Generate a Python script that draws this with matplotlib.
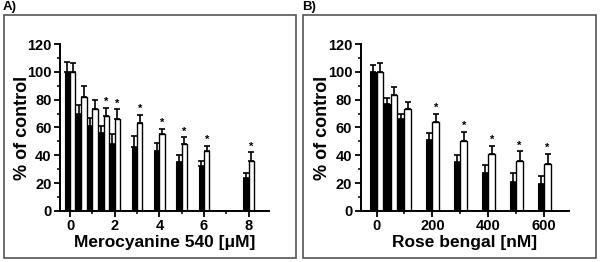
import numpy as np
import matplotlib
matplotlib.use("Agg")
import matplotlib.pyplot as plt
from matplotlib.patches import Rectangle

plt.rcParams['font.family'] = ['Liberation Sans', 'DejaVu Sans']
plt.rcParams['font.weight'] = 'bold'

# panel A - merocyanine 540
mc_dose = [0, 0.5, 1, 1.5, 2, 3, 4, 5, 6, 8]
mc_black = [100, 70, 61, 56, 48, 46, 43, 35, 32, 24]
mc_black_err = [7, 6, 6, 5, 7, 8, 6, 5, 4, 3]
mc_white = [100, 82, 73, 68, 66, 63, 55, 48, 43, 36]
mc_white_err = [6, 8, 7, 6, 7, 6, 4, 5, 4, 6]
mc_star = [False, False, False, True, True, True, True, True, True, True]

# panel B - rose bengal
rb_dose = [0, 50, 100, 200, 300, 400, 500, 600]
rb_black = [100, 77, 66, 51, 35, 27, 21, 19]
rb_black_err = [5, 4, 4, 5, 5, 6, 6, 6]
rb_white = [100, 83, 73, 64, 50, 41, 36, 34]
rb_white_err = [6, 6, 5, 6, 7, 6, 7, 7]
rb_star = [False, False, False, True, True, True, True, True]

fig = plt.figure(figsize=(6, 2.62), dpi=100)

# grey boxes round each panel
for x0 in [0.006, 0.505]:
    fig.patches.append(Rectangle((x0, 0.017), 0.488, 0.925, transform=fig.transFigure,
                                 fill=False, edgecolor='#555555', linewidth=1.2))
fig.text(0.004, 0.975, 'A)', fontsize=9.5, fontweight='bold', va='center')
fig.text(0.504, 0.975, 'B)', fontsize=9.5, fontweight='bold', va='center')


def panel(ax, dose, blk, blk_err, wht, wht_err, star, w, xlim, xticks, minor, xlabel):
    dose = np.array(dose, dtype=float)
    z = np.zeros(len(dose))
    ek = dict(capsize=2, elinewidth=1.2, capthick=1.2, ecolor='black')
    # black left of the dose, white right of it
    ax.bar(dose - w / 2, blk, width=w, color='black', edgecolor='black', linewidth=0.8,
           yerr=[z, blk_err], error_kw=ek)
    ax.bar(dose + w / 2, wht, width=w, color='white', edgecolor='black', linewidth=1.0,
           yerr=[z, wht_err], error_kw=ek)
    for d, v, e, s in zip(dose, wht, wht_err, star):
        if s:
            ax.text(d + w / 2, v + e + 0.5, '*', ha='center', va='bottom', fontsize=8, fontweight='bold')
    ax.set_xlim(xlim)
    ax.set_ylim(0, 120)
    ax.set_yticks(range(0, 121, 20))
    ax.set_yticks(range(10, 120, 20), minor=True)
    ax.set_xticks(xticks)
    ax.set_xticks(minor, minor=True)
    ax.spines['top'].set_visible(False)
    ax.spines['right'].set_visible(False)
    ax.spines['left'].set_linewidth(1.4)
    ax.spines['bottom'].set_linewidth(1.4)
    ax.tick_params(which='major', length=4, width=1.3, labelsize=10.5, pad=2)
    ax.tick_params(which='minor', length=2, width=1.1)
    ax.set_ylabel('% of control', fontsize=13, fontweight='bold')
    ax.yaxis.set_label_coords(-0.14, 0.5)
    ax.set_xlabel(xlabel, fontsize=12.5, fontweight='bold', labelpad=1)
    for lab in ax.get_xticklabels() + ax.get_yticklabels():
        lab.set_fontweight('bold')


axA = fig.add_axes([0.1, 0.195, 0.348, 0.637])
panel(axA, mc_dose, mc_black, mc_black_err, mc_white, mc_white_err, mc_star, 0.24,
      (-0.45, 8.9), [0, 2, 4, 6, 8], [1, 3, 5, 7], 'Merocyanine 540 [\u03bcM]')

axB = fig.add_axes([0.601, 0.195, 0.348, 0.637])
panel(axB, rb_dose, rb_black, rb_black_err, rb_white, rb_white_err, rb_star, 24,
      (-57, 690), [0, 200, 400, 600], [100, 300, 500], 'Rose bengal [nM]')

fig.savefig('out.png', dpi=100)
